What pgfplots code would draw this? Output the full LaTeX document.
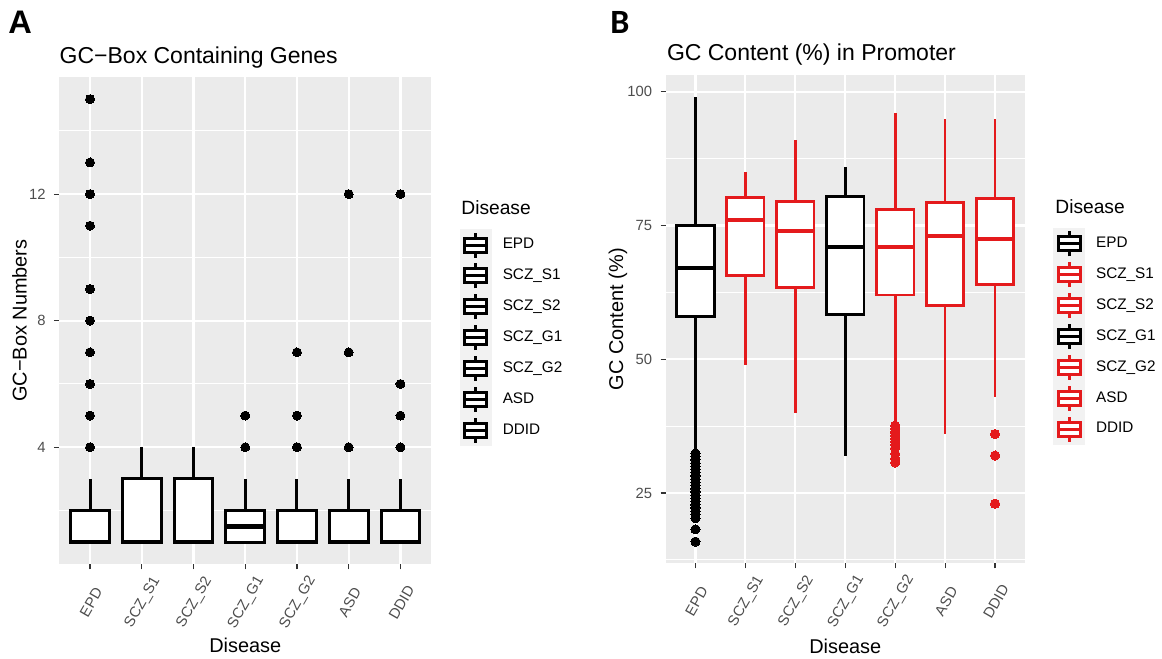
\documentclass[border=0pt]{standalone}
\usepackage{pgfplots}
\pgfplotsset{compat=1.18}
\usepgfplotslibrary{statistics}
\usepackage{fontspec}
\setmainfont{Liberation Sans}
\newfontfamily\carlito{Carlito}
\definecolor{panelbg}{HTML}{EBEBEB}
\definecolor{keybg}{HTML}{F2F2F2}
\definecolor{ticklab}{HTML}{4D4D4D}
\definecolor{tickcol}{HTML}{333333}
\definecolor{ggred}{HTML}{E41A1C}
\newcommand\titlefont{\fontsize{11.5bp}{13bp}\selectfont}
\newcommand\labfont{\fontsize{9.6bp}{11bp}\selectfont}
\newcommand\tickfont{\fontsize{7.4bp}{9bp}\selectfont}
\newcommand\legfont{\fontsize{7.65bp}{9bp}\selectfont}

\pgfplotsset{
  legbox/.style={legend image code/.code={
    \fill[keybg] (0bp,-7.725bp) rectangle (15.5bp,7.725bp);
    \draw[#1, line width=1.5bp] (7.75bp,-6.25bp) -- (7.75bp,6.25bp);
    \filldraw[draw=#1, fill=white, line width=1.5bp] (2.3bp,-3.5bp) rectangle (13.2bp,3.5bp);
    \draw[#1, line width=1.5bp] (2.3bp,0bp) -- (13.2bp,0bp);
  }},
  ggbase/.style={
    scale only axis,
    axis background/.style={fill=panelbg},
    axis line style={draw=none},
    tick align=outside,
    tick pos=left,
    major tick length=2.5bp,
    minor tick length=0pt,
    tick style={tickcol, line width=0.55bp},
    xmajorgrids, ymajorgrids, yminorgrids,
    major grid style={white, line width=1.1bp},
    minor grid style={white, line width=0.55bp},
    xmin=0.4, xmax=7.6,
    xtick={1,...,7},
    xticklabels={EPD,SCZ\_S1,SCZ\_S2,SCZ\_G1,SCZ\_G2,ASD,DDID},
    /pgf/number format/assume math mode=true,
    tick label style={font=\tickfont, text=ticklab},
    yticklabel style={anchor=east, inner sep=0pt, xshift=-4bp},
    xticklabel style={inner sep=0pt, xshift=0.5bp, yshift=-16.5bp, rotate=60, anchor=center},
    label style={font=\labfont, text=black},
    boxplot/draw direction=y,
    boxplot/box extend=0.75,
    boxplot/whisker extend=0,
    boxplot/every box/.style={fill=white},
    legend cell align=left,
    legend style={anchor=north west, draw=none, fill=none, inner sep=0pt, outer sep=0pt,
      row sep=-0.4bp, column sep=5.5bp, font=\legfont, text=black,
      nodes={inner sep=0pt, outer sep=0pt}},
  },
}

\begin{document}
\begin{tikzpicture}
\path[use as bounding box] (0,0) rectangle (581bp,329.5bp);

% ---------------- Panel A ----------------
\begin{axis}[ggbase,
  at={(29.5bp,47.35bp)}, anchor=south west,
  width=186.25bp, height=243.65bp,
  ymin=0.3, ymax=15.7,
  ytick={4,8,12}, minor ytick={2,6,10,14},
  every axis y label/.style={at={(axis description cs:-0.0872,0.5)}, rotate=90, anchor=base, inner sep=0pt},
  every axis x label/.style={at={(axis description cs:0.5,-0.182)}, anchor=base, inner sep=0pt},
  ylabel={GC−Box Numbers}, xlabel={Disease},
  boxplot/every median/.style={line width=2.2bp},
  legend style={at={(1.0765,0.6877)}},
  aplot/.style={forget plot, black, line width=1.5bp, mark=*, mark size=2.25bp,
    mark options={solid, fill=black, draw=black, line width=0pt}},
]
\addplot[aplot, boxplot prepared={draw position=1, lower whisker=1, lower quartile=1, median=1, upper quartile=2, upper whisker=3}]
  coordinates {(1,4) (1,5) (1,6) (1,7) (1,8) (1,9) (1,11) (1,12) (1,13) (1,15)};
\addplot[aplot, boxplot prepared={draw position=2, lower whisker=1, lower quartile=1, median=1, upper quartile=3, upper whisker=4}]
  coordinates {};
\addplot[aplot, boxplot prepared={draw position=3, lower whisker=1, lower quartile=1, median=1, upper quartile=3, upper whisker=4}]
  coordinates {};
\addplot[aplot, boxplot prepared={draw position=4, lower whisker=1, lower quartile=1, median=1.5, upper quartile=2, upper whisker=3}]
  coordinates {(4,4) (4,5)};
\addplot[aplot, boxplot prepared={draw position=5, lower whisker=1, lower quartile=1, median=1, upper quartile=2, upper whisker=3}]
  coordinates {(5,4) (5,5) (5,7)};
\addplot[aplot, boxplot prepared={draw position=6, lower whisker=1, lower quartile=1, median=1, upper quartile=2, upper whisker=3}]
  coordinates {(6,4) (6,7) (6,12)};
\addplot[aplot, boxplot prepared={draw position=7, lower whisker=1, lower quartile=1, median=1, upper quartile=2, upper whisker=3}]
  coordinates {(7,4) (7,5) (7,6) (7,12)};
\addlegendimage{legbox=black}\addlegendentry{EPD}
\addlegendimage{legbox=black}\addlegendentry{SCZ\_S1}
\addlegendimage{legbox=black}\addlegendentry{SCZ\_S2}
\addlegendimage{legbox=black}\addlegendentry{SCZ\_G1}
\addlegendimage{legbox=black}\addlegendentry{SCZ\_G2}
\addlegendimage{legbox=black}\addlegendentry{ASD}
\addlegendimage{legbox=black}\addlegendentry{DDID}
\end{axis}

% ---------------- Panel B ----------------
\begin{axis}[ggbase,
  at={(332.75bp,47.85bp)}, anchor=south west,
  width=179.75bp, height=244.15bp,
  ymin=11.85, ymax=103.15,
  ytick={25,50,75,100}, minor ytick={12.5,37.5,62.5,87.5},
  every axis y label/.style={at={(axis description cs:-0.1182,0.5)}, rotate=90, anchor=base, inner sep=0pt},
  every axis x label/.style={at={(axis description cs:0.5,-0.1837)}, anchor=base, inner sep=0pt},
  ylabel={GC Content (\%)}, xlabel={Disease},
  boxplot/every median/.style={line width=2bp},
  legend style={at={(1.0787,0.6867)}},
  bplot/.style={forget plot, #1, line width=1.35bp, mark=*, mark size=2.3bp,
    mark options={solid, fill=#1, draw=#1, line width=0pt}},
]
\addplot[bplot=black, boxplot prepared={draw position=1, lower whisker=32.5, lower quartile=58, median=67, upper quartile=75, upper whisker=99}]
  coordinates {(1,32.4) (1,31.8) (1,31.2) (1,30.6) (1,30) (1,29.4) (1,28.8) (1,28.2) (1,27.6) (1,27) (1,26.4) (1,25.8) (1,25.2) (1,24.6) (1,24) (1,23.4) (1,22.8) (1,22.2) (1,21.6) (1,21) (1,20.3) (1,18.2) (1,15.9)};
\addplot[bplot=ggred, boxplot prepared={draw position=2, lower whisker=49, lower quartile=65.6, median=76, upper quartile=80.3, upper whisker=85}]
  coordinates {};
\addplot[bplot=ggred, boxplot prepared={draw position=3, lower whisker=40, lower quartile=63.4, median=74, upper quartile=79.5, upper whisker=91}]
  coordinates {};
\addplot[bplot=black, boxplot prepared={draw position=4, lower whisker=32, lower quartile=58.4, median=71, upper quartile=80.4, upper whisker=86}]
  coordinates {};
\addplot[bplot=ggred, boxplot prepared={draw position=5, lower whisker=38, lower quartile=62, median=71, upper quartile=78, upper whisker=96}]
  coordinates {(5,37.6) (5,37) (5,36.4) (5,35.8) (5,35.2) (5,34.6) (5,34) (5,33.4) (5,32.3) (5,31.4) (5,30.7)};
\addplot[bplot=ggred, boxplot prepared={draw position=6, lower whisker=36, lower quartile=60, median=73, upper quartile=79.3, upper whisker=95}]
  coordinates {};
\addplot[bplot=ggred, boxplot prepared={draw position=7, lower whisker=43, lower quartile=64, median=72.5, upper quartile=80, upper whisker=95}]
  coordinates {(7,36) (7,32) (7,23)};
\addlegendimage{legbox=black}\addlegendentry{EPD}
\addlegendimage{legbox=ggred}\addlegendentry{SCZ\_S1}
\addlegendimage{legbox=ggred}\addlegendentry{SCZ\_S2}
\addlegendimage{legbox=black}\addlegendentry{SCZ\_G1}
\addlegendimage{legbox=ggred}\addlegendentry{SCZ\_G2}
\addlegendimage{legbox=ggred}\addlegendentry{ASD}
\addlegendimage{legbox=ggred}\addlegendentry{DDID}
\end{axis}

% ---------------- titles and panel letters ----------------
\node[anchor=base west, inner sep=0pt] at (4bp,312.9bp) {\fontsize{16.3bp}{18bp}\selectfont\bfseries A};
\node[anchor=base west, inner sep=0pt] at (305bp,312.9bp) {\carlito\bfseries\fontsize{17bp}{19bp}\selectfont B};
\node[anchor=base west, inner sep=0pt] at (29.65bp,297.85bp) {\titlefont GC−Box Containing Genes};
\node[anchor=base west, inner sep=0pt] at (333.3bp,299.15bp) {\titlefont GC Content (\%) in Promoter};
\node[anchor=base west, inner sep=0pt] at (230.5bp,222bp) {\labfont Disease};
\node[anchor=base west, inner sep=0pt] at (527.5bp,222.5bp) {\labfont Disease};
\end{tikzpicture}
\end{document}
